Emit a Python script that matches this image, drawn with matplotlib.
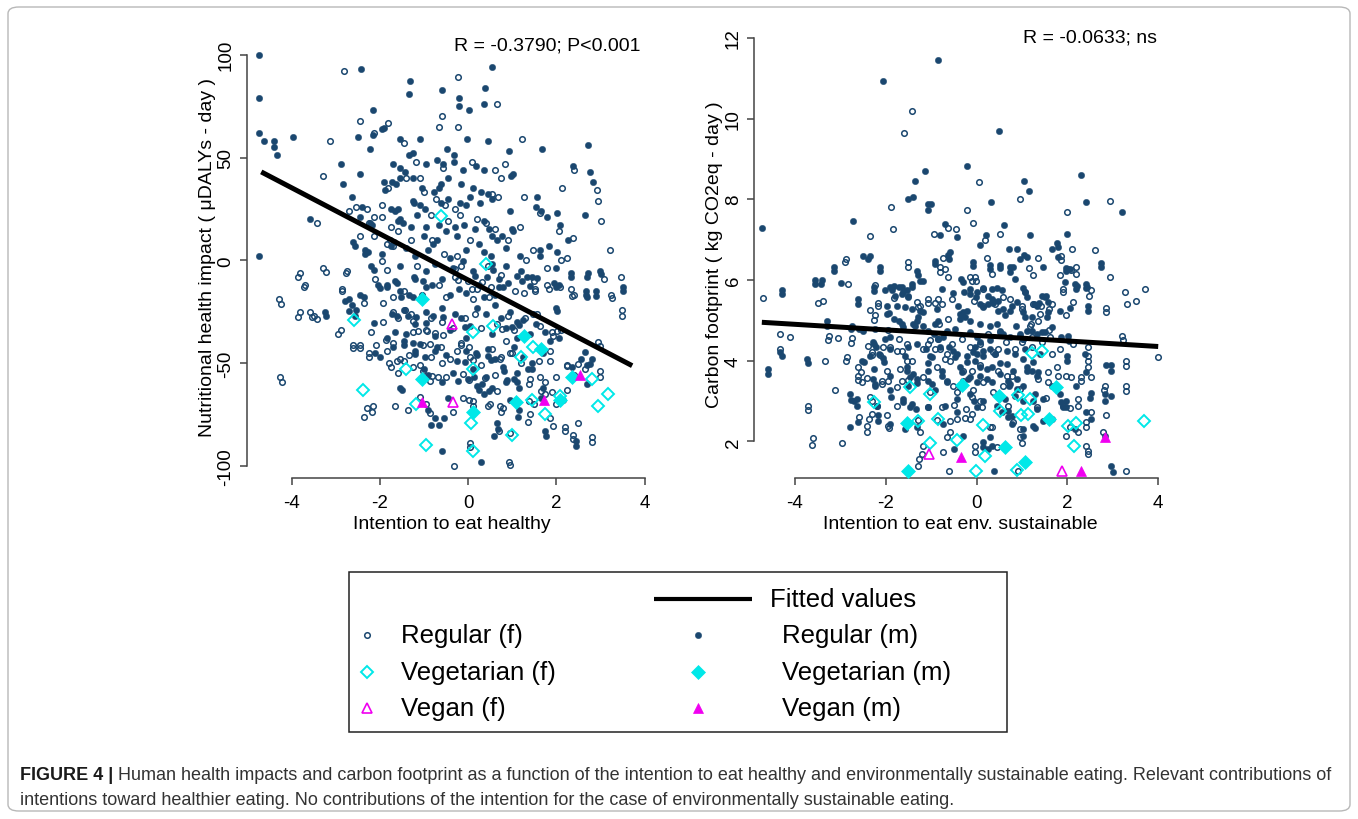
import matplotlib
matplotlib.use('Agg')
import matplotlib.pyplot as plt
from matplotlib.lines import Line2D
from matplotlib.patches import Rectangle, FancyBboxPatch

plt.rcParams['font.family'] = ['Liberation Sans', 'DejaVu Sans']

W, H = 1358, 820
NAVY = '#1a476f'
CYAN = '#00e8e8'
MAGENTA = '#f000f0'
AXC = '#444444'

# ---------------- data: left panel (health) ----------------
health_xticks = [-4, -2, 0, 2, 4]
health_yticks = [-100, -50, 0, 50, 100]
health_xlabel = 'Intention to eat healthy'
health_ylabel = 'Nutritional health impact ( \u03bcDALYs - day )'
health_note = 'R = -0.3790; P<0.001'

health_reg_f = [
    (-2.81, 92), (-0.23, 89), (0.65, 76), (-2.45, 68), (-0.60, 70), (-0.65, 65), (-0.24, 65), (-1.81, 66.6), (-2.13, 62),
    (-3.12, 58), (1.23, 59), (-1.45, 57), (-1.18, 48), (0.09, 48), (0.60, 44), (0.84, 47), (2.39, 44), (-3.28, 41), (0.74, 40),
    (-0.56, 45), (-1.10, 40), (-1.40, 40), (2.13, 35), (2.92, 34), (2.94, 29), (1.26, 31), (1.63, 23), (-1.81, 35), (-1.01, 33),
    (-0.72, 30), (-0.52, 27), (-0.30, 25), (0.55, 32), (0.68, 31), (-2.55, 26), (-1.96, 21), (-2.13, 21), (-2.30, 25), (-2.70, 24),
    (-0.18, 22), (-1.95, 27), (-0.85, 22), (-3.43, 18), (-2.45, 12), (-2.13, 12), (-1.75, 16), (-1.60, 14), (-1.78, 10), (-1.85, 8),
    (-1.70, 7), (-1.30, 10), (-0.82, 10), (-0.55, 3), (-0.25, 2), (0.05, 10), (0.40, 18), (0.60, 15), (0.90, 10), (1.18, 16),
    (2.07, 14), (2.37, 11), (1.47, 5), (1.32, 0), (2.24, 1), (2.10, 0), (3.22, 5), (3.01, 19), (-1.95, -0.5), (-2.25, 18),
    (-0.45, 19), (0.20, 20), (3.09, -9), (3.46, -8), (3.25, -17), (2.33, -14), (2.39, -17), (1.50, -10), (1.52, -14), (1.26, -16),
    (1.80, -4), (1.80, -12), (-3.81, -6), (-3.70, -12), (-3.28, -4), (-2.75, -5), (-2.85, -14), (-2.10, -9), (-1.45, -15),
    (-1.15, -3), (-0.65, -12), (-0.30, -8), (-0.15, -3), (0.00, -10), (0.20, -14), (0.45, -3), (0.75, -7), (-4.28, -19),
    (-1.05, -17), (-0.50, -18), (0.12, -19), (-3.81, -25), (-3.58, -25), (-3.50, -27), (-2.88, -34), (-2.20, -35), (-1.70, -25),
    (-1.92, -30), (-1.60, -28), (-1.30, -26), (-0.85, -28), (-0.60, -30), (-0.35, -33), (-0.08, -28), (0.15, -26), (0.30, -33),
    (0.65, -31), (0.90, -27), (1.05, -34), (1.30, -28), (1.48, -26), (1.62, -32), (1.90, -35), (3.48, -24), (3.48, -27),
    (2.95, -40), (2.10, -34), (-0.95, -34), (-1.25, -35), (-2.60, -41), (-2.45, -41), (-2.25, -45), (-1.85, -44), (-1.55, -48),
    (-1.80, -50), (-1.35, -46), (-1.10, -51), (-0.85, -47), (-0.60, -50), (-0.40, -48), (-0.15, -41), (0.05, -47), (0.30, -51),
    (0.55, -43), (0.75, -47), (1.00, -45), (1.20, -50), (1.60, -49), (1.85, -44), (2.25, -51), (2.40, -56), (2.65, -53),
    (2.98, -54), (-4.26, -57), (-1.60, -55), (-0.50, -57), (0.60, -56), (1.40, -58), (2.00, -57), (-2.30, -72), (-2.15, -71),
    (-1.65, -71), (-0.95, -70), (-0.35, -74), (0.02, -68), (0.10, -71), (0.50, -70), (0.80, -72), (1.40, -75), (1.85, -77),
    (2.00, -70), (2.25, -63), (2.50, -79), (0.75, -74), (1.50, -70), (1.75, -65), (-0.33, -100), (0.92, -98), (0.05, -89),
    (2.38, -85), (2.80, -86), (0.95, -84), (2.20, -81),
    (-3.85, -8.0), (-3.73, -13.2), (-3.23, -5.9), (-2.76, -6.4), (-4.25, -21.3), (-3.85, -27.5), (-3.55, -27.5),
    (-3.42, -28.6), (-2.95, -35.9), (-2.85, -15.2), (-2.36, -20.8), (-1.83, -4.8), (-1.93, -21), (-1.71, -18.1),
    (-1.44, -24.2), (-1.25, -29.4), (-1.13, -34.6), (-0.93, -34.6), (-0.75, -35.5), (-0.58, -36.5), (-1.02, -41.1),
    (-0.87, -40.8), (-0.62, -42.1), (-2.08, -41.1), (-1.87, -38.8), (-1.70, -40.5), (-2.62, -42.9), (-2.46, -42.9),
    (-2.24, -47), (-1.62, -48.9), (-1.46, -49.2), (-1.25, -52.1), (-1.02, -53.8), (-0.81, -56.2), (-0.68, -57),
    (-1.74, -51.8), (-0.87, -58.6), (-1.10, -66.7), (-0.87, -74.5), (-1.36, -72.9), (-2.37, -76.5), (-2.18, -73.6),
    (-4.21, -59.4), (-0.30, -4.3), (-0.22, -9.7), (0.08, -14), (0.31, -10.8), (0.53, -13.2), (0.48, -17.8), (1.06, -15.2),
    (1.52, -15.2), (1.84, -14), (2.08, -13.2), (2.35, -17.3), (3.26, -18.6), (1.57, -26.2), (1.93, -36.7), (2.01, -34.6),
    (2.98, -41.9), (0.76, -33.5), (0.86, -39.2), (-0.15, -40.5), (0.01, -42.1), (-0.26, -44), (0.10, -48.6), (0.72, -48.1),
    (0.95, -45.3), (1.86, -48.9), (2.24, -51.3), (2.50, -50.5), (2.98, -56.7), (1.37, -60.3), (1.63, -57), (1.74, -59.4),
    (-0.11, -55.4), (0.01, -58.3), (0.38, -57.3), (0.65, -63.5), (-0.12, -67.1), (0.12, -68.4), (0.46, -70.8), (0.72, -70.8),
    (1.39, -68.4), (1.65, -63.5), (1.90, -64.3), (2.20, -83), (2.37, -87), (2.80, -88.6), (1.35, -78.9), (1.92, -80.5),
    (0.69, -83), (0.04, -91.1), (0.94, -99.5),
]
health_reg_m = [
    (-4.73, 100), (-2.43, 93), (0.54, 94), (-1.32, 87), (0.39, 84), (-0.60, 83), (-4.73, 79), (-1.33, 81), (-0.20, 79),
    (-0.21, 75), (0.01, 73), (0.36, 76), (-2.15, 73), (-1.96, 64), (-1.90, 64.5), (-2.15, 61), (-4.73, 62), (-2.50, 60),
    (-3.96, 60), (-4.63, 58), (-4.39, 58), (-4.39, 55), (-4.34, 51), (0.46, 58), (-0.03, 59), (-1.54, 59), (-1.09, 59),
    (-2.22, 54), (-0.48, 54), (-0.32, 51), (0.93, 53), (1.67, 54), (2.73, 56), (-1.33, 51), (-1.24, 52), (-2.88, 47),
    (-1.71, 47), (-0.95, 47), (-0.70, 49), (-0.56, 47), (-0.33, 48), (-0.12, 44), (0.17, 46), (0.36, 44), (1.01, 42),
    (0.98, 41), (2.37, 46), (2.77, 43), (-2.45, 42), (-1.55, 45), (-1.43, 43), (-2.83, 37), (2.84, 38), (-1.90, 38),
    (-1.89, 34), (-1.72, 38), (-1.63, 37), (-1.55, 40), (-1.25, 40), (-1.05, 35), (-0.78, 33), (-0.65, 35), (-0.62, 37),
    (-0.45, 40), (-0.15, 37), (0.10, 35), (0.30, 33), (0.45, 32), (1.56, 31), (1.54, 26), (1.66, 24), (1.78, 21), (0.95, 24),
    (2.01, 23), (2.65, 22), (-2.64, 31), (-2.45, 21), (-1.75, 25), (-1.66, 24), (-1.58, 25), (-1.25, 29), (-1.22, 28),
    (-1.09, 27), (-1.15, 22), (-0.98, 25), (-0.62, 28), (-0.45, 30), (-0.18, 28), (-0.05, 27), (0.05, 31), (0.28, 28),
    (0.55, 30), (-3.58, 20), (-2.40, 26), (-2.22, 18), (-2.19, 17), (-1.54, 20), (-1.48, 18), (-1.60, 19), (-1.30, 16),
    (-0.95, 16), (-0.65, 17), (-0.50, 14), (-0.30, 16), (-0.10, 17), (0.15, 15), (0.35, 19), (0.48, 15), (0.55, 12),
    (0.65, 10), (0.78, 12), (1.00, 15), (1.01, 14), (1.17, 2), (1.63, 5), (1.63, 2), (1.84, 7), (2.02, 4), (2.09, 17),
    (2.26, 10), (-2.60, 9), (-2.56, 7), (-2.34, 5), (-2.26, 4), (-2.34, 3), (-1.75, 7), (-1.68, 9), (-1.40, 6), (-0.90, 5),
    (-0.80, 8), (-0.25, 12), (-0.05, 5), (0.25, 8), (0.35, 4), (0.52, 2), (0.85, 6), (-4.73, 2), (-1.95, 3), (-1.20, 2),
    (-0.40, 1), (-0.70, 10), (-1.00, 12), (2.99, -5), (2.71, -6), (3.52, -13), (2.90, -15), (2.68, -15), (2.68, -17),
    (2.33, -6), (1.20, -5), (1.33, -8), (1.44, -8), (1.99, -4), (1.95, -11), (2.06, -12), (-2.05, -12), (-1.85, -12),
    (-1.65, -10), (-1.55, -15), (-1.35, -17), (-1.20, -9), (-0.95, -5), (-0.95, -13), (-0.75, -2), (-0.60, -9), (-0.35, -4),
    (-0.20, -14), (-0.05, -16), (0.10, -5), (0.25, -12), (0.42, -8), (0.55, -2), (0.70, -13), (0.85, -3), (0.90, -11),
    (-2.45, -17), (-2.20, -3), (-1.55, -3), (-0.40, -17), (0.35, -18), (0.62, -17), (-3.25, -25), (-2.63, -22), (-2.55, -24),
    (-2.70, -19), (-1.72, -26), (-1.62, -27), (-1.45, -24), (-1.20, -31), (-0.95, -25), (-0.80, -27), (-0.60, -23),
    (-0.30, -26), (-0.15, -28), (0.05, -32), (0.20, -23), (0.40, -26), (0.60, -22), (0.75, -28), (0.95, -25), (1.10, -30),
    (1.25, -29), (1.40, -36), (1.55, -31), (1.75, -35), (1.99, -23), (2.05, -38), (-1.85, -38), (-1.40, -36), (-0.75, -37),
    (-0.40, -34), (-0.05, -38), (0.55, -36), (0.85, -33), (1.10, -38), (-2.10, -45), (-1.70, -42), (-1.45, -41), (-1.20, -44),
    (-0.98, -47), (-0.70, -42), (-0.50, -46), (-0.25, -49), (-0.05, -44), (0.20, -46), (0.45, -43), (0.62, -48), (0.80, -52),
    (1.05, -42), (1.25, -47), (1.45, -50), (1.70, -45), (2.55, -48), (2.70, -51), (2.80, -48), (-1.00, -53), (-0.35, -55),
    (0.10, -53), (0.40, -57), (0.85, -59), (1.10, -55), (1.35, -53), (2.35, -52), (-1.05, -58), (-0.90, -56), (-0.60, -59),
    (0.00, -58), (0.20, -61), (-1.55, -62), (-0.90, -73), (-0.75, -77), (-0.55, -77), (0.25, -63), (0.35, -65), (0.55, -62),
    (1.15, -62), (1.70, -62), (2.70, -60), (1.65, -67), (-0.45, -67), (0.95, -68), (0.65, -79), (1.15, -73), (2.15, -68),
    (-0.60, -93), (0.30, -98), (2.45, -88), (1.75, -83), (0.68, -82),
    (-3.23, -27), (-2.80, -20), (-2.70, -24.9), (-2.57, -27), (-2.36, -17.8), (-2.13, -4.5), (-2.0, -13.5), (-1.83, -13.2),
    (-1.62, -11.3), (-1.53, -18.1), (-1.26, -18.1), (-1.23, -8.0), (-1.02, -10.3), (-0.81, -12.1), (-1.46, -39.5),
    (-1.25, -40.5), (-1.10, -40.8), (-1.66, -35.1), (-2.14, -30.3), (-1.99, -47), (-1.51, -63.2), (-0.85, -80),
    (-0.66, -80.2), (-1.36, -27), (-1.17, -27.8), (-0.96, -30.7), (-0.75, -44), (-0.57, -27.8), (-1.21, -45.7),
    (-0.12, -0.6), (0.16, -7.5), (0.56, -4.8), (0.69, -9.2), (0.80, -13.2), (1.10, -7.5), (1.22, -10), (1.40, -12.4),
    (1.57, -8.4), (1.99, -13.2), (2.33, -8.0), (2.69, -8.0), (3.01, -6.7), (3.52, -14.8), (2.69, -17.8), (2.90, -17.3),
    (2.01, -24.9), (-0.07, -32.7), (0.19, -45.3), (0.46, -46.5), (0.53, -48.6), (0.99, -32.4), (1.16, -31.4), (1.86, -39.5),
    (2.65, -44.4), (2.77, -50.5), (1.44, -53), (1.10, -59.4), (0.81, -54.1), (0.88, -58.3), (1.03, -57.8), (0.48, -63.8),
    (0.31, -60.3), (0.13, -57), (-0.24, -58.6), (-0.07, -49.7), (0.59, -85.4), (1.77, -85.4), (2.44, -90.3), (1.14, -76.5),
]
health_veg_f = [
    (-0.61, 21.4), (0.40, -2), (-2.59, -29), (0.11, -35), (0.57, -32), (1.19, -47), (1.47, -42), (-1.41, -53), (2.81, -58),
    (-2.39, -63), (-1.17, -70), (1.46, -68), (2.09, -66), (3.18, -65), (2.94, -71), (1.75, -75), (0.06, -79), (0.99, -85),
    (-0.96, -90), (0.12, -93), (0.10, -53),
]
health_veg_m = [(-1.04, -19), (1.27, -37), (1.65, -43), (-1.04, -58), (2.35, -57), (1.09, -69), (2.09, -68), (0.11, -74)]
health_vegan_f = [(-0.37, -31), (-0.35, -69)]
health_vegan_m = [(-1.04, -69), (1.71, -68), (2.53, -56)]
health_fit = [(-4.69, 43.0), (3.72, -51.3)]

# ---------------- data: right panel (carbon) ----------------
carbon_xticks = [-4, -2, 0, 2, 4]
carbon_yticks = [2, 4, 6, 8, 10, 12]
carbon_xlabel = 'Intention to eat env. sustainable'
carbon_ylabel = 'Carbon footprint ( kg CO2eq - day )'
carbon_note = 'R = -0.0633; ns'

carbon_reg_f = [
    (-1.42, 10.19), (-1.59, 9.65), (0.06, 8.42), (0.95, 8.0), (2.94, 7.95), (-1.89, 7.80), (-0.21, 7.74), (-0.07, 7.41),
    (2.00, 7.68), (-1.85, 7.26), (-0.93, 7.14), (-0.62, 7.28), (-0.45, 7.26), (-2.35, 7.10), (0.51, 7.14), (0.18, 6.98),
    (2.61, 6.75), (-1.50, 6.44), (-2.88, 6.52), (-0.81, 6.19), (-0.70, 6.27), (-0.73, 6.54), (-0.15, 6.07), (-0.04, 6.07),
    (0.22, 6.54), (1.16, 6.29), (1.25, 6.11), (1.85, 6.59), (2.11, 6.77), (2.18, 6.31), (2.93, 6.08), (1.36, 6.54),
    (-4.70, 5.55), (-3.49, 5.43), (-3.38, 5.49), (-2.17, 5.36), (-2.24, 5.12), (-1.83, 5.55), (-1.32, 5.46), (-1.25, 5.36),
    (-1.06, 5.53), (-0.84, 5.53), (-0.55, 5.53), (-0.06, 5.49), (0.15, 5.36), (0.40, 5.40), (0.73, 5.53), (0.99, 5.36),
    (1.25, 5.40), (1.65, 5.40), (1.91, 5.69), (2.13, 5.45), (2.53, 5.74), (2.86, 5.30), (3.27, 5.69), (3.31, 5.40),
    (3.50, 5.49), (3.71, 5.78), (1.97, 5.12), (1.39, 5.16), (-4.33, 4.66), (-4.11, 4.58), (-3.24, 4.62), (-3.05, 4.56),
    (-2.75, 4.57), (-2.31, 4.21), (-2.40, 4.35), (-4.32, 4.29), (-3.34, 4.0), (-2.86, 4.08), (-2.61, 3.83), (-2.06, 4.33),
    (-1.91, 4.33), (-1.72, 4.54), (-1.54, 4.41), (-1.17, 4.29), (-1.03, 4.50), (-0.84, 4.54), (-0.66, 4.17), (-0.55, 4.41),
    (-0.33, 4.54), (-0.15, 4.33), (0.07, 4.41), (0.26, 4.66), (0.48, 4.29), (0.65, 4.45), (0.84, 4.29), (1.03, 4.54),
    (1.21, 4.33), (1.43, 4.45), (1.65, 4.17), (1.83, 4.29), (2.13, 4.41), (2.46, 4.33), (2.46, 4.12), (2.46, 4.0), (3.30, 4.0),
    (4.0, 4.08), (3.21, 4.62), (1.17, 4.87), (1.36, 4.99), (-3.12, 3.28), (-2.61, 3.63), (-2.53, 3.46), (-1.98, 3.75),
    (-1.69, 3.79), (-1.17, 3.59), (-0.88, 3.83), (-0.51, 3.38), (-0.29, 3.50), (-0.07, 3.28), (0.15, 3.46), (0.37, 3.21),
    (0.59, 3.38), (0.77, 3.63), (0.95, 3.30), (1.36, 3.55), (1.58, 3.46), (1.76, 3.83), (1.98, 3.63), (2.31, 3.59),
    (2.53, 3.59), (2.83, 3.38), (3.30, 3.36), (2.86, 2.65), (-3.71, 2.88), (-2.35, 3.09), (-2.09, 3.50), (-2.20, 2.88),
    (-1.76, 2.88), (-1.03, 3.21), (-0.44, 3.21), (0.07, 3.01), (0.70, 2.88), (1.32, 2.84), (1.91, 2.88), (2.24, 3.05),
    (-3.60, 2.07), (-2.97, 1.96), (-2.42, 2.39), (-2.31, 2.68), (-1.98, 2.64), (-1.95, 2.39), (-1.25, 2.22), (-1.17, 1.89),
    (-0.59, 2.22), (-0.44, 2.55), (-0.24, 2.80), (-0.11, 2.68), (-0.04, 1.89), (0.29, 2.35), (0.95, 2.10), (1.58, 2.55),
    (2.06, 2.35), (2.24, 2.22), (2.42, 1.89), (2.46, 1.77), (2.53, 2.72), (2.42, 2.47), (2.79, 2.22), (-0.73, 1.74),
    (-1.26, 1.55), (-0.60, 1.26), (0.92, 1.26), (3.30, 1.26), (0.44, 1.85),
    (-2.35, 5.26), (-3.27, 4.51), (-2.77, 4.43), (-2.88, 3.98), (-2.27, 5.01), (-1.96, 4.76), (-2.31, 4.15), (-2.13, 4.15),
    (-1.76, 4.25), (-1.65, 4.23), (-1.54, 3.99), (-1.43, 3.98), (-2.55, 3.71), (-2.62, 3.52), (-2.42, 3.57), (-2.08, 3.42),
    (-1.96, 3.50), (-1.76, 3.35), (-1.65, 3.50), (-1.50, 3.52), (-3.72, 2.78), (-2.60, 2.61), (-2.38, 2.55), (-1.94, 2.33),
    (-2.42, 2.22), (-3.62, 1.92), (-2.31, 3.01), (-2.18, 5.42), (-2.24, 5.88), (-2.90, 6.44), (-2.84, 5.90), (-1.52, 6.33),
    (-1.28, 2.53), (-1.06, 2.86), (-0.88, 2.53), (-1.21, 1.68), (-1.28, 1.39), (-0.77, 2.84), (-0.59, 2.51), (-0.49, 2.91),
    (-0.66, 2.10), (-0.81, 6.31), (-0.62, 6.07), (-1.30, 5.34), (-1.06, 5.42), (-0.92, 5.44), (-0.77, 5.40), (-0.83, 4.92),
    (-0.62, 5.03), (-1.06, 4.41), (-0.92, 4.29), (-0.81, 4.29), (-0.70, 4.04), (-0.59, 4.00), (-0.11, 5.98), (-0.01, 5.97),
    (0.15, 5.78), (0.33, 6.15), (0.59, 5.57), (0.99, 5.28), (1.19, 4.91), (1.41, 5.36), (1.60, 5.28), (1.85, 6.49),
    (1.84, 6.11), (2.09, 6.25), (2.20, 6.15), (1.91, 5.78), (2.48, 5.61), (2.85, 5.20), (3.22, 4.51), (1.60, 4.76),
    (1.62, 4.59), (1.21, 4.58), (0.99, 4.45), (0.37, 4.21), (0.07, 3.88), (-0.11, 3.75), (-0.29, 3.75), (0.48, 3.75),
    (0.66, 3.63), (1.58, 3.71), (1.80, 3.63), (2.08, 3.59), (2.29, 3.50), (2.46, 3.85), (3.29, 3.87), (2.81, 3.27),
    (3.30, 3.24), (-0.11, 3.09), (0.11, 2.84), (-0.15, 2.55), (-0.26, 2.59), (0.33, 2.35), (0.81, 2.47), (0.96, 2.30),
    (1.53, 3.07), (2.06, 2.82), (2.24, 2.88), (2.41, 2.36), (1.98, 2.14), (-0.04, 1.73), (0.99, 1.95), (2.46, 1.69),
]
carbon_reg_m = [
    (-0.84, 11.45), (-2.07, 10.93), (0.50, 9.68), (-0.22, 8.83), (-1.13, 8.71), (-1.36, 8.44), (2.29, 8.60), (1.05, 8.44),
    (1.16, 8.20), (-1.50, 8.0), (-1.41, 8.05), (0.32, 7.92), (2.41, 7.92), (3.21, 7.69), (-1.08, 7.88), (-1.00, 7.88),
    (-1.08, 7.74), (-2.72, 7.45), (-4.73, 7.28), (-0.70, 7.38), (-0.81, 7.12), (-0.44, 7.06), (0.60, 7.35), (0.21, 7.12),
    (1.17, 7.12), (2.00, 7.14), (0.07, 6.87), (0.72, 6.77), (0.90, 6.77), (1.04, 6.62), (1.78, 6.92), (1.80, 6.82),
    (-1.32, 6.21), (-0.92, 6.46), (-0.62, 6.62), (-0.58, 6.70), (-0.07, 6.44), (0.29, 6.36), (0.51, 6.36), (-2.50, 6.59),
    (-2.35, 6.59), (-3.13, 6.31), (-2.13, 6.31), (1.98, 6.29), (2.06, 6.26), (2.73, 6.41), (-0.35, 6.02), (-1.43, 5.90),
    (1.65, 6.77), (1.47, 6.31), (1.79, 6.56), (0.73, 6.31), (-3.56, 6.0), (-3.41, 6.0), (-4.29, 5.75), (-2.26, 5.82),
    (-2.02, 5.74), (-1.91, 5.82), (-1.82, 5.86), (-1.72, 5.82), (-1.65, 5.83), (-1.54, 5.76), (-1.50, 5.61), (-1.61, 5.69),
    (-1.25, 5.98), (-1.18, 5.98), (-0.77, 5.78), (-0.51, 5.67), (-0.28, 5.69), (-0.15, 5.78), (0.00, 5.69), (0.15, 5.79),
    (0.33, 5.78), (0.44, 5.79), (0.55, 5.74), (1.03, 5.79), (1.06, 5.69), (1.43, 5.61), (1.50, 5.57), (1.94, 5.94),
    (2.20, 5.78), (2.41, 5.90), (2.44, 5.83), (2.46, 5.35), (2.06, 5.30), (1.58, 5.20), (1.03, 5.20), (-2.61, 5.53),
    (-1.98, 5.35), (-1.76, 5.36), (-1.58, 5.32), (-1.43, 5.28), (-1.17, 5.20), (-0.88, 5.28), (-0.40, 5.36), (0.26, 5.60),
    (0.33, 5.53), (0.37, 5.43), (0.48, 5.47), (0.77, 5.36), (0.88, 5.45), (0.62, 5.12), (1.32, 5.36), (-1.98, 5.16),
    (-3.30, 4.99), (-2.75, 4.87), (-2.50, 4.74), (-2.24, 4.79), (-2.28, 4.45), (-2.25, 4.42), (-2.02, 4.54), (-1.91, 4.58),
    (-1.61, 4.83), (-1.39, 4.91), (-1.32, 4.99), (-1.17, 4.87), (-0.84, 4.99), (-0.92, 4.91), (-0.66, 4.74), (-0.73, 4.58),
    (-0.37, 5.03), (-0.29, 5.20), (-0.22, 5.24), (-0.33, 5.12), (-0.15, 4.70), (0.00, 4.58), (0.07, 4.45), (0.29, 4.50),
    (0.51, 4.74), (0.73, 4.58), (0.87, 4.87), (0.95, 4.62), (1.10, 4.74), (1.32, 4.66), (1.50, 4.70), (1.65, 4.83),
    (1.87, 4.58), (2.02, 4.62), (2.39, 4.17), (2.86, 3.88), (-3.74, 4.04), (-4.33, 4.21), (-4.60, 3.79), (-2.53, 4.0),
    (-2.35, 4.12), (-2.06, 4.06), (-1.91, 4.29), (-1.50, 4.33), (-1.58, 4.12), (-1.32, 4.41), (-1.12, 4.29), (-1.03, 4.12),
    (-0.81, 4.33), (-0.51, 4.25), (-0.44, 4.17), (-0.22, 4.12), (-0.04, 4.33), (0.15, 4.12), (0.29, 4.29), (0.40, 4.17),
    (0.66, 4.25), (0.84, 4.17), (1.03, 4.04), (1.25, 3.96), (1.39, 4.17), (2.00, 4.11), (1.06, 4.29), (-2.28, 3.55),
    (-1.91, 3.63), (-2.24, 3.38), (-1.54, 3.83), (-1.47, 3.59), (-1.32, 3.55), (-1.50, 3.38), (-1.06, 3.75), (-0.99, 3.42),
    (-0.66, 3.46), (-0.37, 3.83), (-0.33, 3.71), (-0.18, 3.55), (0.07, 3.63), (0.33, 3.83), (0.51, 3.67), (0.70, 3.50),
    (0.72, 3.38), (0.90, 3.55), (1.10, 3.75), (1.32, 3.63), (1.65, 3.38), (1.83, 3.17), (1.98, 3.01), (2.20, 3.38),
    (2.51, 3.20), (2.83, 3.17), (2.97, 3.88), (2.95, 3.13), (-2.79, 3.17), (-2.64, 3.05), (-1.91, 3.28), (-1.61, 3.05),
    (-1.43, 2.92), (-1.06, 2.84), (-0.70, 2.88), (-0.44, 3.05), (-0.15, 3.17), (0.15, 3.01), (0.44, 2.88), (0.62, 3.05),
    (0.84, 3.13), (1.03, 3.01), (1.28, 3.17), (1.47, 3.05), (-2.61, 2.47), (-2.17, 2.64), (-1.91, 2.43), (-1.32, 2.35),
    (-0.73, 2.43), (-0.44, 2.72), (-0.29, 2.14), (0.29, 2.10), (0.55, 2.72), (0.70, 2.60), (0.77, 2.43), (1.03, 2.31),
    (1.47, 2.51), (1.91, 2.84), (2.17, 2.31), (2.42, 2.72), (2.83, 2.14), (0.15, 1.98), (-0.50, 1.81), (2.51, 2.55),
    (0.38, 1.26), (2.97, 1.40), (0.26, 1.81),
    (-2.39, 6.52), (-3.14, 6.23), (-2.13, 6.21), (-3.56, 5.90), (-3.43, 5.90), (-2.99, 5.92), (-4.29, 5.65), (-2.62, 5.40),
    (-2.27, 5.72), (-1.86, 5.75), (-1.80, 5.61), (-1.65, 5.65), (-1.50, 5.57), (-1.43, 5.83), (-1.30, 6.13), (-1.94, 5.17),
    (-1.72, 4.99), (-1.36, 4.87), (-3.30, 4.87), (-2.77, 4.78), (-2.60, 4.78), (-2.22, 4.33), (-2.15, 4.16), (-2.05, 3.96),
    (-2.49, 3.96), (-2.27, 3.79), (-3.72, 3.93), (-4.59, 3.67), (-4.29, 4.12), (-2.77, 3.02), (-2.69, 3.01), (-2.64, 2.88),
    (-2.20, 2.88), (-2.24, 3.42), (-1.89, 3.11), (-2.79, 2.35), (-2.18, 2.51), (-1.58, 2.30), (-1.61, 2.97), (-1.47, 2.84),
    (-1.34, 2.80), (-1.54, 3.75), (-1.39, 3.67), (-1.32, 3.44), (-1.06, 3.50), (-0.92, 3.27), (-0.77, 3.63), (-0.66, 3.50),
    (-1.06, 3.93), (-0.99, 4.08), (-0.77, 3.75), (-0.92, 6.40), (-0.61, 6.52), (-1.30, 5.07), (-1.25, 5.22), (-1.06, 4.74),
    (-0.93, 4.66), (-0.84, 4.54), (-0.48, 4.78), (-0.61, 4.33), (-0.48, 4.08), (-1.81, 5.03), (-1.65, 4.92),
    (-0.09, 6.35), (0.29, 6.27), (0.51, 6.30), (0.74, 6.19), (0.81, 6.31), (0.85, 6.02), (0.96, 6.52), (1.10, 6.56),
    (1.07, 5.69), (1.10, 5.57), (1.26, 5.40), (1.38, 5.44), (1.53, 5.59), (1.58, 5.45), (1.84, 5.24), (1.98, 6.23),
    (2.02, 6.27), (2.17, 5.90), (2.22, 5.86), (2.41, 5.80), (2.46, 5.24), (2.73, 6.33), (-0.29, 5.94), (-0.15, 5.65),
    (-0.01, 5.57), (0.07, 5.40), (0.15, 5.32), (0.26, 5.40), (0.37, 5.49), (0.48, 5.24), (0.59, 5.28), (0.74, 5.24),
    (-0.37, 5.16), (-0.26, 5.07), (-0.15, 4.99), (0.07, 4.91), (0.29, 4.87), (0.44, 4.91), (0.51, 4.70), (0.59, 4.66),
    (0.96, 4.66), (1.03, 4.54), (1.21, 4.74), (1.43, 4.70), (1.07, 5.07), (1.21, 5.07), (1.54, 5.07), (2.04, 4.49),
    (-0.07, 4.21), (0.00, 4.16), (0.15, 4.25), (0.40, 4.16), (0.51, 3.95), (-0.22, 3.96), (-0.04, 4.00), (0.07, 3.83),
    (0.22, 3.79), (0.66, 3.92), (0.81, 3.75), (1.10, 3.83), (1.21, 3.75), (1.36, 3.71), (2.00, 3.98), (2.42, 3.71),
    (-0.15, 3.59), (0.00, 3.46), (0.22, 3.54), (0.33, 3.46), (0.74, 3.42), (0.88, 3.30), (1.03, 3.38), (1.25, 3.01),
    (1.32, 2.80), (1.87, 2.97), (1.97, 2.84), (2.50, 3.07), (2.83, 3.01), (2.97, 3.75), (0.70, 2.76), (0.77, 2.63),
    (1.25, 2.39), (1.29, 2.34), (1.65, 2.55), (1.03, 2.14), (0.15, 1.85), (0.33, 1.89), (3.00, 1.23), (-0.06, 3.01),
    (0.00, 2.84), (-0.37, 3.34),
]
carbon_veg_f = [
    (-1.47, 3.34), (-2.25, 2.97), (-1.03, 3.17), (-1.28, 2.51), (-0.84, 2.55), (-1.03, 1.96), (-0.44, 2.02), (0.15, 2.40),
    (0.18, 1.63), (-0.01, 1.26), (0.51, 2.76), (0.92, 3.15), (1.17, 3.05), (0.97, 2.64), (1.14, 2.68), (1.23, 4.18),
    (1.43, 4.25), (2.02, 2.37), (2.18, 2.45), (2.14, 1.89), (3.69, 2.51), (0.90, 1.30),
]
carbon_veg_m = [(-0.33, 3.40), (0.50, 3.13), (1.74, 3.34), (-1.54, 2.45), (1.60, 2.55), (0.62, 1.85), (1.06, 1.48), (-1.52, 1.27)]
carbon_vegan_f = [(-1.04, 1.69), (1.89, 1.26)]
carbon_vegan_m = [(-0.35, 1.60), (2.31, 1.27), (2.83, 2.10)]
carbon_fit = [(-4.73, 4.95), (4.00, 4.35)]

legend_labels = ['Regular (f)', 'Regular (m)', 'Vegetarian (f)', 'Vegetarian (m)', 'Vegan (f)', 'Vegan (m)']
fit_label = 'Fitted values'
caption_bold = 'FIGURE 4 |'
caption_line1 = (' Human health impacts and carbon footprint as a function of the intention to eat healthy and '
                 'environmentally sustainable eating. Relevant contributions of')
caption_line2 = ('intentions toward healthier eating. No contributions of the intention for the case of '
                 'environmentally sustainable eating.')

# ---------------- styles ----------------
STY = {
    'reg_f': dict(marker='o', ms=4.0, mfc='none', mec=NAVY, mew=1.1),
    'reg_m': dict(marker='o', ms=4.6, mfc=NAVY, mec=NAVY, mew=0.3),
    'veg_f': dict(marker='D', ms=6.6, mfc='none', mec=CYAN, mew=1.4),
    'veg_m': dict(marker='D', ms=7.0, mfc=CYAN, mec=CYAN, mew=0.5),
    'vegan_f': dict(marker='^', ms=7.2, mfc='none', mec=MAGENTA, mew=1.2),
    'vegan_m': dict(marker='^', ms=7.6, mfc=MAGENTA, mec=MAGENTA, mew=0.5),
}

fig = plt.figure(figsize=(W / 100, H / 100), dpi=100)
fig.patch.set_facecolor('white')


def fx(px):
    return px / W


def fy(py):
    return 1 - py / H


def pts(seq):
    return [p[0] for p in seq], [p[1] for p in seq]


def panel(rect, xlim, ylim, xticks, yticks, xlabel, ylabel, note, note_xy, groups, fit):
    ax = fig.add_axes(rect)
    ax.set_xlim(*xlim)
    ax.set_ylim(*ylim)
    for key, data in groups:
        xs, ys = pts(data)
        ax.plot(xs, ys, ls='none', zorder=3 if key.startswith('reg') else 5, **STY[key])
    fxs, fys = pts(fit)
    ax.plot(fxs, fys, color='black', lw=3.6, solid_capstyle='butt', zorder=4)
    for s in ('top', 'right'):
        ax.spines[s].set_visible(False)
    for s in ('left', 'bottom'):
        ax.spines[s].set_color(AXC)
        ax.spines[s].set_linewidth(1.1)
    ax.spines['left'].set_bounds(yticks[0], yticks[-1])
    ax.spines['bottom'].set_bounds(xticks[0], xticks[-1])
    ax.set_xticks(xticks)
    ax.set_yticks(yticks)
    ax.set_xticklabels([str(t) for t in xticks])
    ax.set_yticklabels([str(t) for t in yticks])
    ax.tick_params(axis='both', direction='out', length=5, width=1.1, color=AXC,
                   labelsize=13.5, labelcolor='black')
    ax.tick_params(axis='x', pad=6)
    ax.tick_params(axis='y', pad=4)
    for lab in ax.get_yticklabels():
        lab.set_rotation(90)
        lab.set_va('center')
        lab.set_ha('right')
    ax.set_xlabel(xlabel, fontsize=14, labelpad=3)
    ax.set_ylabel(ylabel, fontsize=14, labelpad=1)
    ax.patch.set_alpha(0)
    fig.text(fx(note_xy[0]), fy(note_xy[1]), note, fontsize=14, ha='right', va='center')
    return ax


panel([fx(246.7), fy(479.3), fx(657.3) - fx(246.7), fy(35) - fy(479.3)],
      (-5.02, 4.29), (-106.1, 110.1), health_xticks, health_yticks, health_xlabel, health_ylabel,
      health_note, (641, 46),
      [('reg_f', health_reg_f), ('reg_m', health_reg_m), ('veg_f', health_veg_f), ('veg_m', health_veg_m),
       ('vegan_f', health_vegan_f), ('vegan_m', health_vegan_m)], health_fit)

panel([fx(754.3), fy(479.3), fx(1165.7) - fx(754.3), fy(30) - fy(479.3)],
      (-4.896, 4.165), (1.083, 12.22), carbon_xticks, carbon_yticks, carbon_xlabel, carbon_ylabel,
      carbon_note, (1157, 38),
      [('reg_f', carbon_reg_f), ('reg_m', carbon_reg_m), ('veg_f', carbon_veg_f), ('veg_m', carbon_veg_m),
       ('vegan_f', carbon_vegan_f), ('vegan_m', carbon_vegan_m)], carbon_fit)

# ---------------- legend box ----------------
fig.add_artist(Rectangle((fx(349), fy(733)), fx(1007) - fx(349), fy(573) - fy(733),
                         transform=fig.transFigure, fill=False, edgecolor='#222222', lw=1.1))
fig.add_artist(Line2D([fx(654), fx(752)], [fy(600), fy(600)], transform=fig.transFigure,
                      color='black', lw=3.0, solid_capstyle='butt'))
fig.text(fx(770), fy(600), fit_label, fontsize=18.5, va='center', ha='left')
keys = ['reg_f', 'reg_m', 'veg_f', 'veg_m', 'vegan_f', 'vegan_m']
rows_y = [636, 636, 673, 673, 709, 709]
mk_x = [367, 698, 367, 698, 367, 698]
tx_x = [401, 782, 401, 782, 401, 782]
for k, lab, yy, mx, tx in zip(keys, legend_labels, rows_y, mk_x, tx_x):
    fig.add_artist(Line2D([fx(mx)], [fy(yy)], transform=fig.transFigure, ls='none', **STY[k]))
    fig.text(fx(tx), fy(yy), lab, fontsize=18.5, va='center', ha='left')

# ---------------- outer frame & caption ----------------
fig.add_artist(FancyBboxPatch((fx(8), fy(812)), fx(1350) - fx(8), fy(8) - fy(812),
                              boxstyle='round,pad=0,rounding_size=0.008', transform=fig.transFigure,
                              fill=False, edgecolor='#b8b8b8', lw=1.0))
CAP_FS = 12.95
cb = fig.text(fx(20), fy(776), caption_bold, fontsize=CAP_FS, fontweight='bold', color='#1a1a1a',
              va='center', ha='left')
fig.canvas.draw()
bb = cb.get_window_extent()
fig.text(bb.x1 / W, fy(776), caption_line1, fontsize=CAP_FS, color='#333333', va='center', ha='left')
fig.text(fx(20), fy(801), caption_line2, fontsize=CAP_FS, color='#333333', va='center', ha='left')

fig.savefig('out.png', dpi=100, facecolor='white')
